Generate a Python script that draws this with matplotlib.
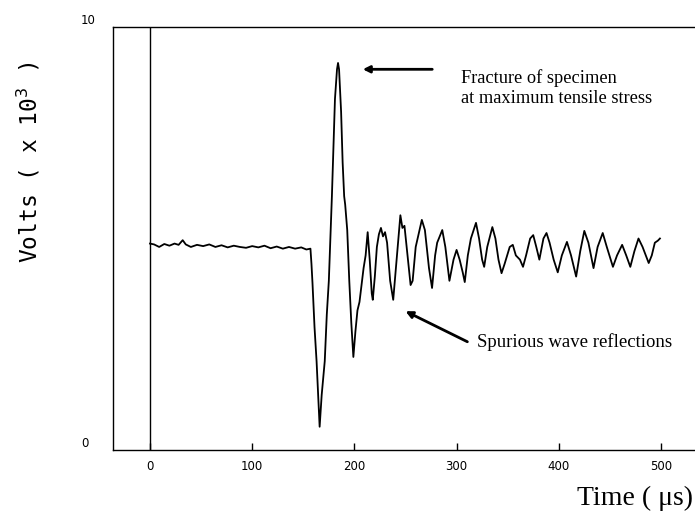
import matplotlib.pyplot as plt

# signal (time in microseconds, volts x 1e-3)
time_us = [0, 4, 9, 14, 19, 24, 28, 32, 35, 40, 46, 52, 58, 64, 70, 76, 82, 88,
           94, 100, 106, 112, 118, 124, 130, 136, 142, 148, 153, 157,
           158, 159, 161, 163, 164.5, 166, 168, 171, 173, 175, 178, 181, 183,
           184, 185, 187, 188.5, 189.5, 190, 191, 193, 195, 197, 199, 201, 203,
           205, 207, 209, 211, 213, 215, 217, 218, 220, 222, 224, 226, 228, 230,
           232, 235, 238, 241, 245, 247, 249, 252, 255, 257, 260, 266, 269, 273,
           276, 279, 281, 286, 289, 293, 297, 300, 303, 306, 308, 311, 314, 319,
           322, 325, 327, 330, 335, 338, 341, 344, 347, 352, 355, 358, 362, 365,
           368, 372, 375, 378, 381, 385, 388, 391, 395, 399, 403, 408, 412, 417,
           421, 425, 429, 434, 438, 443, 447, 453, 457, 462, 466, 470, 474, 478,
           482, 488, 491, 494, 497, 499]
volts = [4.88, 4.86, 4.80, 4.87, 4.83, 4.88, 4.85, 4.96, 4.86, 4.80, 4.85,
         4.82, 4.86, 4.80, 4.84, 4.79, 4.83, 4.80, 4.78, 4.82, 4.79, 4.83,
         4.77, 4.81, 4.76, 4.80, 4.76, 4.79, 4.74, 4.76,
         4.40, 3.95, 2.90, 2.10, 1.35, 0.55, 1.30, 2.10, 3.20, 4.00, 6.00,
         8.30, 9.00, 9.15, 9.00, 8.00, 6.80, 6.30, 6.00, 5.80, 5.20, 4.00,
         3.00, 2.20, 2.80, 3.30, 3.50, 3.90, 4.30, 4.60, 5.15, 4.50, 3.70,
         3.55, 4.10, 4.80, 5.10, 5.25, 5.05, 5.15, 4.90, 4.00, 3.55, 4.40,
         5.55, 5.25, 5.30, 4.60, 3.90, 4.00, 4.80, 5.44, 5.20, 4.30, 3.83,
         4.60, 4.90, 5.20, 4.80, 4.00, 4.50, 4.73, 4.50, 4.20, 3.97, 4.60,
         5.00, 5.37, 5.00, 4.50, 4.33, 4.80, 5.27, 5.00, 4.50, 4.18, 4.40,
         4.80, 4.85, 4.60, 4.50, 4.33, 4.60, 5.00, 5.08, 4.80, 4.50, 5.00,
         5.13, 4.90, 4.50, 4.20, 4.60, 4.92, 4.60, 4.10, 4.70, 5.18, 4.90,
         4.30, 4.80, 5.13, 4.80, 4.33, 4.60, 4.85, 4.60, 4.33, 4.70, 5.00,
         4.80, 4.42, 4.60, 4.90, 4.95, 5.00]

x_ticks = [0, 100, 200, 300, 400, 500]
y_ticks = [0, 10]

fig = plt.figure(figsize=(6.95, 5.16), dpi=100)
ax = fig.add_axes([113 / 695, 66 / 516, 582 / 695, 423 / 516])

ax.plot(time_us, volts, color="black", lw=1.3)
ax.axvline(0, color="black", lw=1.0)

ax.set_xlim(-36.2, 533.3)
ax.set_ylim(0, 10)
ax.spines["right"].set_visible(False)
for s in ["left", "top", "bottom"]:
    ax.spines[s].set_linewidth(1.0)

ax.set_xticks(x_ticks)
ax.set_xticklabels([str(t) for t in x_ticks], fontsize=8.5, family="DejaVu Sans")
ax.tick_params(axis="x", direction="in", length=5, width=1.0, pad=7)
ax.set_yticks(y_ticks)
ax.set_yticklabels([str(v) for v in y_ticks], fontsize=8.5, family="DejaVu Sans",
                   ha="left", va="bottom")
ax.tick_params(axis="y", length=0, pad=23)

ax.set_ylabel("Volts ( x 10$^{3}$ )", family="DejaVu Sans Mono", fontsize=16.5)
ax.yaxis.set_label_coords(-0.122, 0.68)
ax.set_xlabel("Time ( μs)", family="Liberation Serif", fontsize=20, ha="right")
ax.xaxis.set_label_coords(0.997, -0.085)

ax.text(304, 9.0, "Fracture of specimen\nat maximum tensile stress",
        family="Liberation Serif", fontsize=13.2, va="top", ha="left",
        linespacing=1.2, transform=ax.transData)
ax.annotate("", xy=(205.5, 9.0), xytext=(278.9, 9.0),
            arrowprops=dict(arrowstyle="-|>", color="black", lw=2.0,
                            mutation_scale=10))
ax.text(320, 2.55, "Spurious wave reflections", family="Liberation Serif",
        fontsize=13.5, va="center", ha="left")
ax.annotate("", xy=(247.6, 3.31), xytext=(313, 2.53),
            arrowprops=dict(arrowstyle="-|>", color="black", lw=2.0,
                            mutation_scale=10))

fig.savefig("out.png", dpi=100)
